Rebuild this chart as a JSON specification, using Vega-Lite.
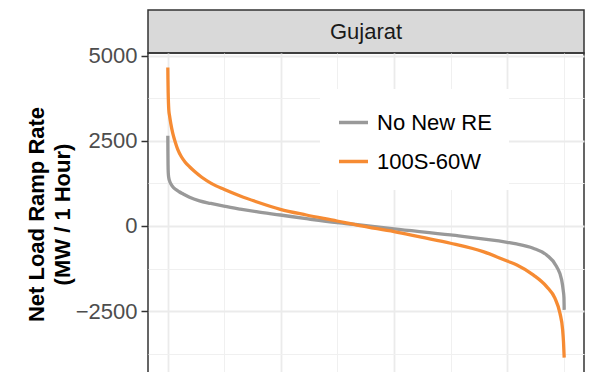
{
  "$schema": "https://vega.github.io/schema/vega-lite/v6.json",
  "padding": {"left": 24, "top": 9, "right": 5, "bottom": 0},
  "background": "white",
  "config": {
    "font": "Liberation Sans",
    "concat": {"spacing": 0},
    "axis": {"zindex": 0}
  },
  "datasets": {
    "strip": [{"panel": "Gujarat"}],
    "curves": [
      {"series": "No New RE", "hour": 0, "ramp": 2646},
      {"series": "No New RE", "hour": 2, "ramp": 2200},
      {"series": "No New RE", "hour": 5, "ramp": 1800},
      {"series": "No New RE", "hour": 10, "ramp": 1560},
      {"series": "No New RE", "hour": 20, "ramp": 1420},
      {"series": "No New RE", "hour": 40, "ramp": 1320},
      {"series": "No New RE", "hour": 70, "ramp": 1230},
      {"series": "No New RE", "hour": 110, "ramp": 1150},
      {"series": "No New RE", "hour": 170, "ramp": 1075},
      {"series": "No New RE", "hour": 250, "ramp": 1005},
      {"series": "No New RE", "hour": 332, "ramp": 945},
      {"series": "No New RE", "hour": 480, "ramp": 840},
      {"series": "No New RE", "hour": 700, "ramp": 735},
      {"series": "No New RE", "hour": 950, "ramp": 660},
      {"series": "No New RE", "hour": 1239, "ramp": 580},
      {"series": "No New RE", "hour": 1600, "ramp": 495},
      {"series": "No New RE", "hour": 1956, "ramp": 419},
      {"series": "No New RE", "hour": 2487, "ramp": 322},
      {"series": "No New RE", "hour": 3062, "ramp": 214},
      {"series": "No New RE", "hour": 3739, "ramp": 97},
      {"series": "No New RE", "hour": 4241, "ramp": 29},
      {"series": "No New RE", "hour": 5000, "ramp": -88},
      {"series": "No New RE", "hour": 6248, "ramp": -264},
      {"series": "No New RE", "hour": 7500, "ramp": -478},
      {"series": "No New RE", "hour": 7708, "ramp": -527},
      {"series": "No New RE", "hour": 8075, "ramp": -653},
      {"series": "No New RE", "hour": 8372, "ramp": -850},
      {"series": "No New RE", "hour": 8593, "ramp": -1192},
      {"series": "No New RE", "hour": 8704, "ramp": -1582},
      {"series": "No New RE", "hour": 8740, "ramp": -1900},
      {"series": "No New RE", "hour": 8755, "ramp": -2100},
      {"series": "No New RE", "hour": 8760, "ramp": -2461},
      {"series": "100S-60W", "hour": 0, "ramp": 4650},
      {"series": "100S-60W", "hour": 3, "ramp": 4300},
      {"series": "100S-60W", "hour": 8, "ramp": 3900},
      {"series": "100S-60W", "hour": 14, "ramp": 3620},
      {"series": "100S-60W", "hour": 22, "ramp": 3400},
      {"series": "100S-60W", "hour": 40, "ramp": 3220},
      {"series": "100S-60W", "hour": 65, "ramp": 3010},
      {"series": "100S-60W", "hour": 110, "ramp": 2716},
      {"series": "100S-60W", "hour": 160, "ramp": 2480},
      {"series": "100S-60W", "hour": 221, "ramp": 2240},
      {"series": "100S-60W", "hour": 300, "ramp": 2030},
      {"series": "100S-60W", "hour": 380, "ramp": 1880},
      {"series": "100S-60W", "hour": 480, "ramp": 1737},
      {"series": "100S-60W", "hour": 600, "ramp": 1590},
      {"series": "100S-60W", "hour": 750, "ramp": 1430},
      {"series": "100S-60W", "hour": 960, "ramp": 1251},
      {"series": "100S-60W", "hour": 1239, "ramp": 1075},
      {"series": "100S-60W", "hour": 1600, "ramp": 880},
      {"series": "100S-60W", "hour": 1956, "ramp": 712},
      {"series": "100S-60W", "hour": 2487, "ramp": 489},
      {"series": "100S-60W", "hour": 3062, "ramp": 322},
      {"series": "100S-60W", "hour": 3739, "ramp": 146},
      {"series": "100S-60W", "hour": 4241, "ramp": 9},
      {"series": "100S-60W", "hour": 5000, "ramp": -167},
      {"series": "100S-60W", "hour": 5600, "ramp": -330},
      {"series": "100S-60W", "hour": 6248, "ramp": -507},
      {"series": "100S-60W", "hour": 6969, "ramp": -753},
      {"series": "100S-60W", "hour": 7500, "ramp": -1030},
      {"series": "100S-60W", "hour": 7715, "ramp": -1143},
      {"series": "100S-60W", "hour": 8075, "ramp": -1436},
      {"series": "100S-60W", "hour": 8372, "ramp": -1779},
      {"series": "100S-60W", "hour": 8555, "ramp": -2119},
      {"series": "100S-60W", "hour": 8666, "ramp": -2558},
      {"series": "100S-60W", "hour": 8726, "ramp": -3047},
      {"series": "100S-60W", "hour": 8745, "ramp": -3400},
      {"series": "100S-60W", "hour": 8760, "ramp": -3860}
    ]
  },
  "spacing": 0,
  "bounds": "flush",
  "resolve": {"legend": {"color": "independent"}, "scale": {"color": "independent"}},
  "vconcat": [
    {
      "width": 436,
      "height": 43,
      "data": {"name": "strip"},
      "view": {"fill": "#d9d9d9", "stroke": "#333333", "strokeWidth": 1.5},
      "mark": {"type": "text", "fontSize": 22, "color": "#1a1a1a", "baseline": "middle", "align": "center"},
      "encoding": {"text": {"field": "panel", "type": "nominal"}}
    },
    {
      "width": 436,
      "height": 322,
      "data": {"name": "curves"},
      "view": {"stroke": "#333333", "strokeWidth": 1.5},
      "resolve": {
        "scale": {"x": "shared", "y": "shared", "color": "shared"},
        "axis": {"x": "independent", "y": "independent"}
      },
      "layer": [
        {
          "transform": [{"filter": "datum.series === 'No New RE'"}],
          "mark": {"type": "line", "strokeWidth": 3.3, "interpolate": "monotone"},
          "encoding": {
            "x": {
              "field": "hour", "type": "quantitative",
              "scale": {"domain": [-438, 9198], "nice": false, "zero": false},
              "axis": {"orient": "bottom", "values": [0, 2500, 5000, 7500], "grid": true, "gridColor": "#ebebeb", "gridWidth": 1.8, "labels": false, "ticks": false, "domain": false, "title": null, "minExtent": 0, "maxExtent": 0}
            },
            "y": {
              "field": "ramp", "type": "quantitative",
              "scale": {"domain": [-4372, 5075], "nice": false, "zero": false},
              "axis": {
                "orient": "left", "values": [-2500, 0, 2500, 5000], "format": "d",
                "grid": true, "gridColor": "#ebebeb", "gridWidth": 1.8,
                "domain": false, "tickColor": "#333333", "tickSize": 7, "tickWidth": 1.5,
                "labelFontSize": 22, "labelColor": "#4d4d4d", "labelPadding": 4,
                "title": ["Net Load Ramp Rate", "(MW / 1 Hour)"],
                "titleFontSize": 22, "titleFontWeight": "bold", "titleColor": "black",
                "titleLineHeight": 26, "titlePadding": 1
              }
            },
            "color": {
              "field": "series", "type": "nominal",
              "scale": {"domain": ["No New RE", "100S-60W"], "range": ["#999999", "#f68b33"]},
              "legend": {
                "orient": "none", "legendX": 172, "legendY": 36, "title": null,
                "fillColor": "white", "padding": 17, "symbolType": "stroke",
                "symbolSize": 841, "symbolStrokeWidth": 3.5, "labelFontSize": 22,
                "labelColor": "black", "labelOffset": 7, "rowPadding": 11
              }
            }
          }
        },
        {
          "transform": [{"filter": "datum.series === '100S-60W'"}],
          "mark": {"type": "line", "strokeWidth": 3.3, "interpolate": "monotone"},
          "encoding": {
            "x": {
              "field": "hour", "type": "quantitative",
              "axis": {"orient": "top", "values": [1250, 3750, 6250, 8750], "grid": true, "gridColor": "#f0f0f0", "gridWidth": 1, "labels": false, "ticks": false, "domain": false, "title": null, "minExtent": 0, "maxExtent": 0}
            },
            "y": {
              "field": "ramp", "type": "quantitative",
              "axis": {"orient": "right", "values": [-3750, -1250, 1250, 3750], "grid": true, "gridColor": "#f0f0f0", "gridWidth": 1, "labels": false, "ticks": false, "domain": false, "title": null, "minExtent": 0, "maxExtent": 0}
            },
            "color": {"field": "series", "type": "nominal"}
          }
        }
      ]
    }
  ]
}
